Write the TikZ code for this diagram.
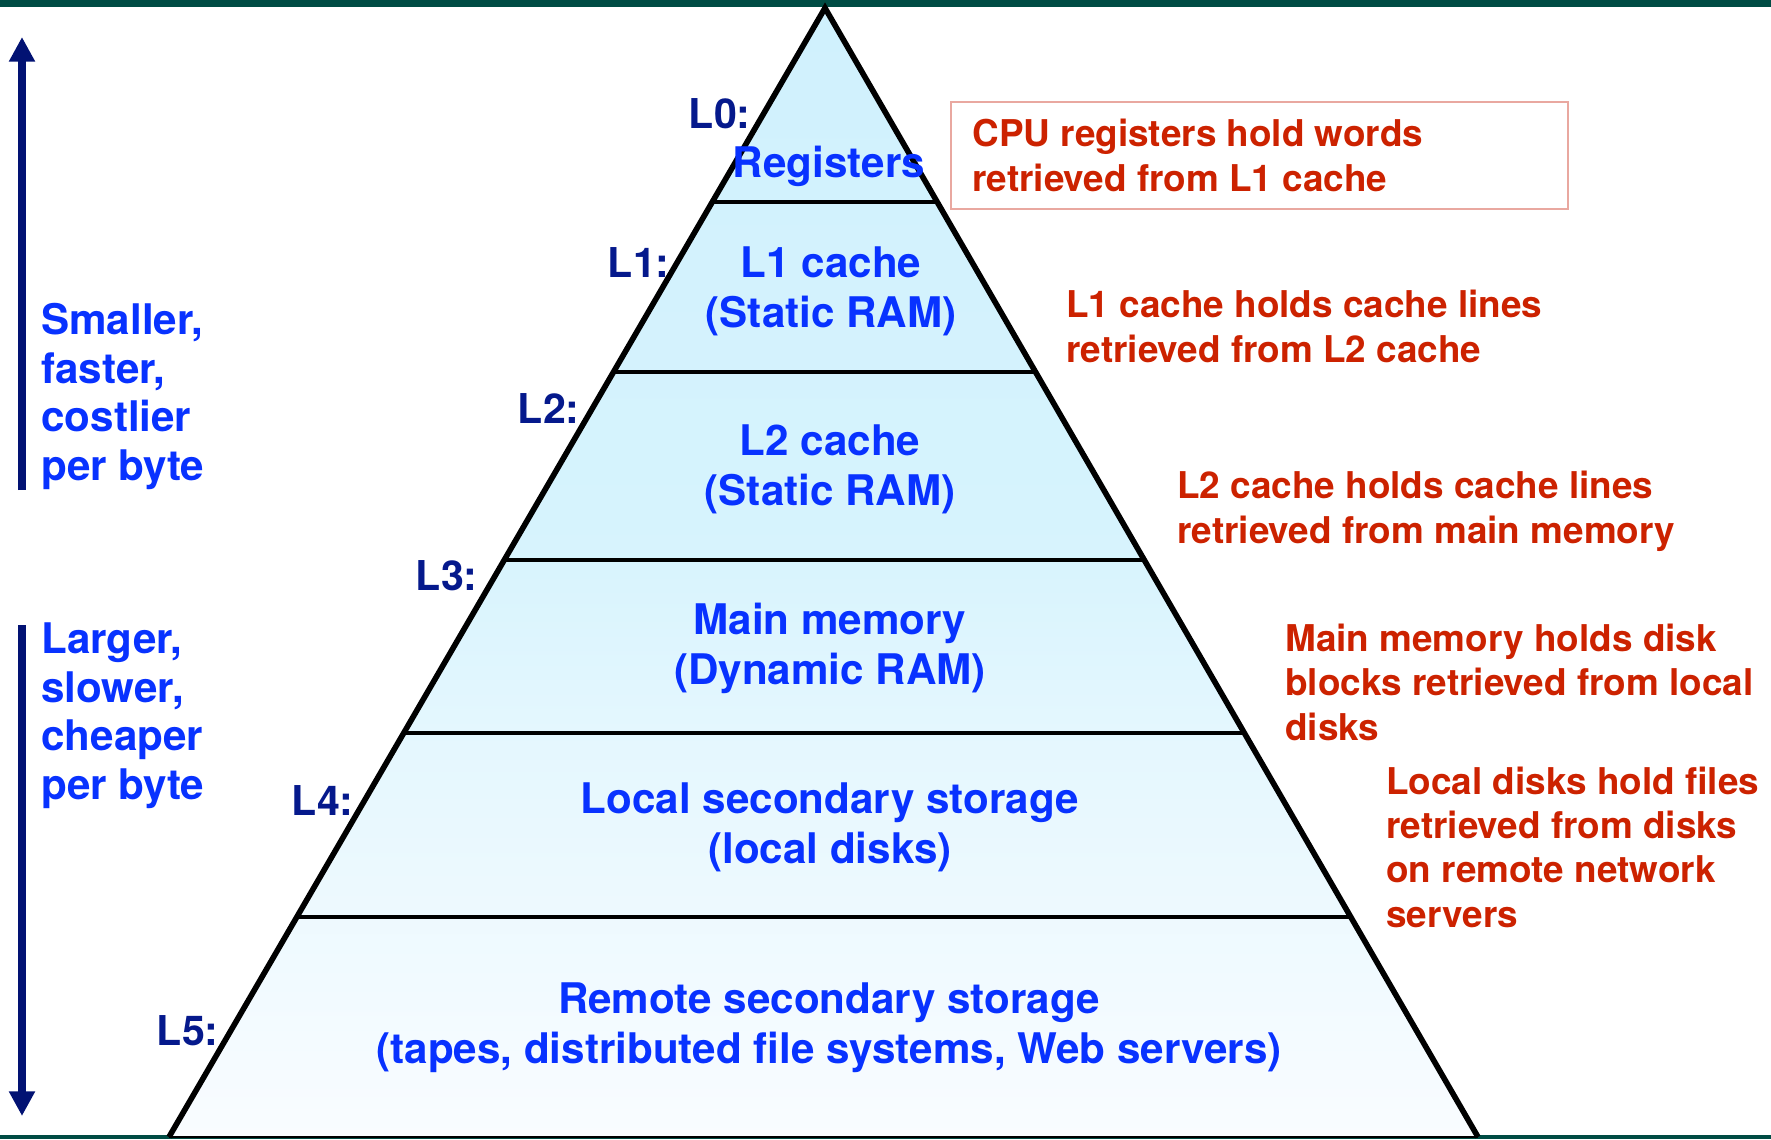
\documentclass[tikz,border=0pt]{standalone}
\usepackage{fontspec}
\setmainfont{TeX Gyre Heros}
\usetikzlibrary{arrows.meta,calc}

\definecolor{bluetext}{RGB}{8,50,255}
\definecolor{tagblue}{RGB}{5,25,140}
\definecolor{arrowblue}{RGB}{2,18,115}
\definecolor{notered}{RGB}{204,34,0}
\definecolor{boxred}{RGB}{233,168,160}
\definecolor{bargreen}{RGB}{0,76,68}
\definecolor{pyrtop}{RGB}{208,241,253}
\definecolor{pyrmid}{RGB}{214,243,253}
\definecolor{pyrlow}{RGB}{228,247,254}
\definecolor{pyrbot}{RGB}{249,252,255}
\pgfdeclareverticalshading{pyramidfill}{100bp}{color(0bp)=(pyrbot); color(25bp)=(pyrbot); color(43bp)=(pyrlow); color(52bp)=(pyrmid); color(75bp)=(pyrtop); color(100bp)=(pyrtop)}

\begin{document}
\begin{tikzpicture}[x=0.02cm,y=-0.02cm]
% multi-line nodes sit on the baseline of their last line
\tikzstyle{tier} = [font=\fontsize{24}{28}\selectfont\bfseries, text=bluetext, align=center, inner sep=0pt, anchor=base]
\tikzstyle{tag} = [font=\fontsize{23.4}{28}\selectfont\bfseries, text=tagblue, inner sep=0pt, anchor=base east]
\tikzstyle{note} = [font=\fontsize{21}{25.2}\selectfont\bfseries, text=notered, align=left, inner sep=0pt, anchor=base west]
\tikzstyle{side} = [font=\fontsize{24}{27.6}\selectfont\bfseries, text=bluetext, align=left, inner sep=0pt, anchor=base west]
\tikzstyle{trend} = [line width=4pt, draw=arrowblue, -{Triangle[length=14pt,width=14pt]}]
\useasboundingbox (0,0) rectangle (1771,1139);

% bars top and bottom
\fill[bargreen] (0,0) rectangle (1771,7);
\fill[bargreen] (0,1135) rectangle (1771,1139);

% pyramid
\coordinate (apex) at (825,8);
\coordinate (lb) at (169,1137);
\coordinate (rb) at (1478,1137);
\shade[shading=pyramidfill] (apex) -- (lb) -- (rb) -- cycle;
\coordinate (d1l) at ($(apex)!0.1718!(lb)$);
\coordinate (d1r) at ($(apex)!0.1718!(rb)$);
\coordinate (d2l) at ($(apex)!0.3224!(lb)$);
\coordinate (d2r) at ($(apex)!0.3224!(rb)$);
\coordinate (d3l) at ($(apex)!0.4889!(lb)$);
\coordinate (d3r) at ($(apex)!0.4889!(rb)$);
\coordinate (d4l) at ($(apex)!0.6422!(lb)$);
\coordinate (d4r) at ($(apex)!0.6422!(rb)$);
\coordinate (d5l) at ($(apex)!0.8051!(lb)$);
\coordinate (d5r) at ($(apex)!0.8051!(rb)$);
\draw[line width=2.5pt] (d1l) -- (d1r);
\draw[line width=2.5pt] (d2l) -- (d2r);
\draw[line width=2.5pt] (d3l) -- (d3r);
\draw[line width=2.5pt] (d4l) -- (d4r);
\draw[line width=2.5pt] (d5l) -- (d5r);
\draw[line width=1.5pt] (lb) -- (rb);
\draw[line width=3.2pt] (lb) -- (apex) -- (rb);

% levels
\node[tag] (lzero) at (751,128) {L0:};
\node[tier] (registers) at (829,177) {Registers};
\node[tag] (lone) at (670,277) {L1:};
\node[tier] (lonecache) at (831,327) {L1 cache\\(Static RAM)};
\node[tag] (ltwo) at (580,423) {L2:};
\node[tier] (ltwocache) at (830,505) {L2 cache\\(Static RAM)};
\node[tag] (lthree) at (478,590) {L3:};
\node[tier] (mainmem) at (830,684) {Main memory\\(Dynamic RAM)};
\node[tag] (lfour) at (354,815) {L4:};
\node[tier] (localdisk) at (830,863) {Local secondary storage\\(local disks)};
\node[tag] (lfive) at (219,1045) {L5:};
\node[tier] (remote) at (829,1063) {Remote secondary storage\\(tapes, distributed file systems, Web servers)};

% notes on the right
\coordinate (cpunw) at (951,102);
\coordinate (cpuse) at (1568,209);
\draw[draw=boxred, line width=1pt] (cpunw) rectangle (cpuse);
\node[note] (regnote) at (972,191) {CPU registers hold words\\retrieved from L1 cache};
\node[note] (lonenote) at (1066,362) {L1 cache holds cache lines\\retrieved from L2 cache};
\node[note] (ltwonote) at (1177,543) {L2 cache holds cache lines\\retrieved from main memory};
\node[note] (memnote) at (1285,740) {Main memory holds disk\\blocks retrieved from local\\disks};
\node[note] (disknote) at (1386,927) {Local disks hold files\\retrieved from disks\\on remote network\\servers};

% arrows on the left
\coordinate (upfoot) at (22,490);
\coordinate (uptip) at (22,37);
\coordinate (downfoot) at (22,625);
\coordinate (downtip) at (22,1116);
\draw[trend] (upfoot) -- (uptip);
\draw[trend] (downfoot) -- (downtip);
\node[side] (smaller) at (41,480) {Smaller,\\faster,\\costlier\\per byte};
\node[side] (larger) at (41,799) {Larger,\\slower,\\cheaper\\per byte};
\end{tikzpicture}
\end{document}
